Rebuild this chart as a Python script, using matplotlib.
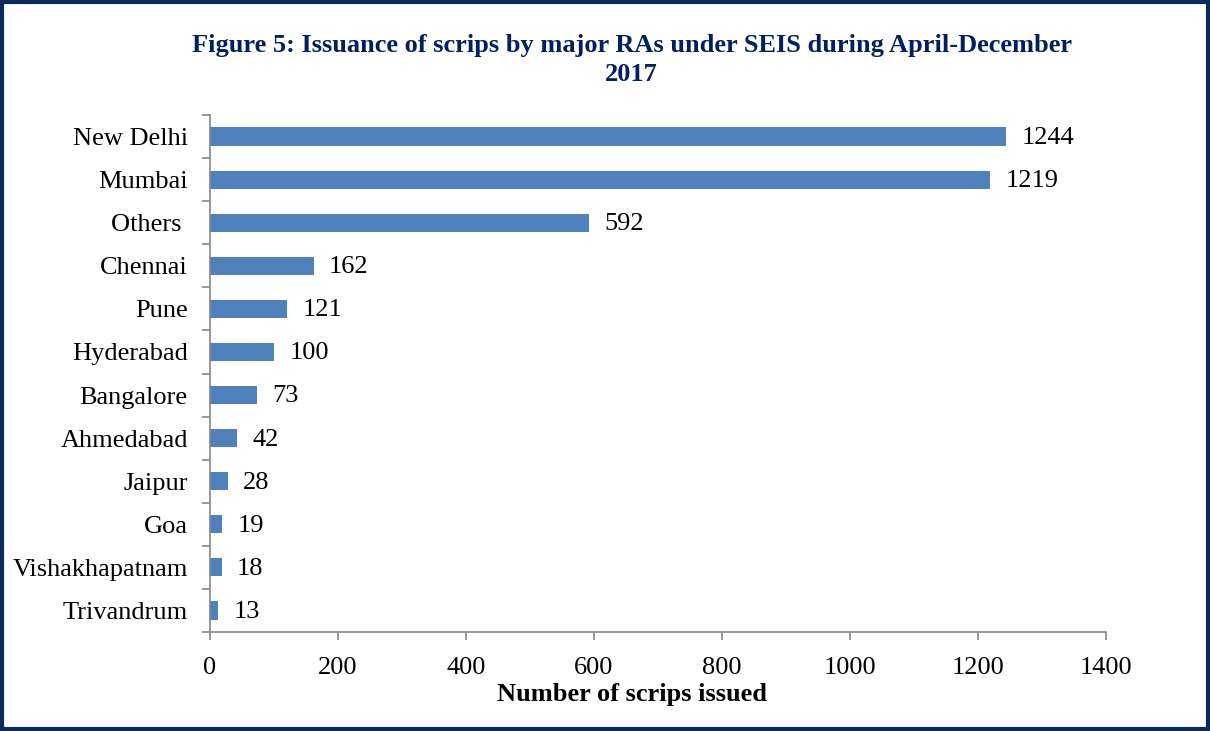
import matplotlib.pyplot as plt
from matplotlib.patches import Rectangle

# Datos
ciudades = ["New Delhi", "Mumbai", "Others ", "Chennai", "Pune", "Hyderabad",
            "Bangalore", "Ahmedabad", "Jaipur", "Goa", "Vishakhapatnam", "Trivandrum"]
scrips = [1244, 1219, 592, 162, 121, 100, 73, 42, 28, 19, 18, 13]
xticks = [0, 200, 400, 600, 800, 1000, 1200, 1400]

plt.rcParams["font.family"] = ["Liberation Serif", "DejaVu Serif"]

fig = plt.figure(figsize=(12.1, 7.31), dpi=100)
ax = fig.add_axes([0.1736, 0.1354, 0.7405, 0.7073])

posiciones = list(range(len(ciudades)))
ax.barh(posiciones, scrips, height=0.42, color="#4F81BD")
ax.set_ylim(len(ciudades) - 0.5, -0.5)
ax.set_xlim(0, 1400)

# Etiquetas de valor
for y, v in zip(posiciones, scrips):
    ax.annotate(str(v), xy=(v, y), xytext=(11, -1), textcoords="offset points",
                va="center", ha="left", fontsize=19, color="black")

ax.set_yticks(posiciones)
ax.set_yticklabels(ciudades, fontsize=19)
ax.set_yticks([i - 0.5 for i in range(len(ciudades) + 1)], minor=True)
ax.tick_params(axis="y", which="major", length=0, pad=16)
ax.tick_params(axis="y", which="minor", length=6, color="#868686", width=1.2)
ax.set_xticks(xticks)
ax.set_xticklabels([str(t) for t in xticks], fontsize=19)
ax.tick_params(axis="x", length=6, color="#868686", width=1.2, pad=12)

for lado in ["top", "right"]:
    ax.spines[lado].set_visible(False)
for lado in ["left", "bottom"]:
    ax.spines[lado].set_color("#868686")
    ax.spines[lado].set_linewidth(1.2)

fig.text(0.522, 0.953, "Figure 5: Issuance of scrips by major RAs under SEIS during April-December\n2017",
         ha="center", va="top", fontsize=19, fontweight="bold", color="#002060",
         linespacing=1.3)
fig.text(0.522, 0.050, "Number of scrips issued", ha="center", va="center",
         fontsize=19, fontweight="bold", color="black")

# Borde del gráfico
fig.patches.append(Rectangle((0.0015, 0.0025), 0.997, 0.995, transform=fig.transFigure,
                             fill=False, edgecolor="#0B2A5E", linewidth=3))

plt.savefig("out.png", dpi=100)
